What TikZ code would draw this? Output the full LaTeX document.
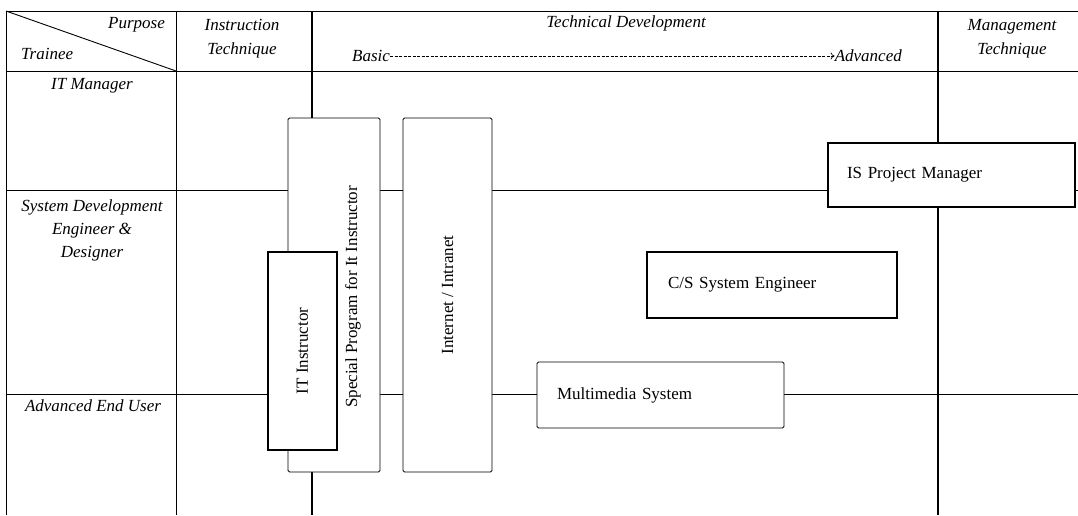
\documentclass[tikz,border=0pt]{standalone}
\usepackage{fontspec}
\setmainfont{Liberation Serif}
\usetikzlibrary{arrows.meta,positioning}

\newcommand{\hdfont}{\fontsize{17}{19}\selectfont\itshape}
\newcommand{\bxfont}{\fontsize{17}{19}\selectfont}

\begin{document}
\begin{tikzpicture}[x=1pt, y=-1pt,
  rule/.style={line width=0.9pt},
  bold rule/.style={line width=1.8pt},
  hd/.style={font=\hdfont, align=center, inner sep=0pt},
  box/.style={draw, fill=white, font=\bxfont, inner ysep=0pt, align=left},
  heavy/.style={box, line width=1.7pt},
  light/.style={box, line width=0.9pt, rounded corners=1.5pt},
  arr/.style={dashed, dash pattern=on 3pt off 1.5pt, line width=0.7pt, -{To[length=4pt,width=7pt]}}]

\fill[white] (0,0) rectangle (1078,515);
\useasboundingbox (0,0) rectangle (1078,515);

% table grid
\draw[rule] (6,11) -- (1078,11);
\draw[rule] (6,71) -- (1078,71);
\draw[rule] (6,190) -- (1078,190);
\draw[rule] (6,394) -- (1078,394);
\draw[rule] (6,11) -- (6,515);
\draw[rule] (176,11) -- (176,515);
\draw[bold rule] (312,11) -- (312,515);
\draw[bold rule] (938,11) -- (938,515);
\draw[rule] (6,11) -- (176,71);

% header
\node[hd, anchor=east] (purpose) at (165,25) {Purpose};
\node[hd, anchor=west] (trainee) at (21,54) {Trainee};
\node[hd] (instr) at (242,39) {Instruction\\[5pt]Technique};
\node[hd] (techdev) at (626,23) {Technical Development};
\node[hd, anchor=west] (basic) at (352,56) {Basic};
\node[hd, anchor=east] (adv) at (902,56) {Advanced};
\draw[arr] (basic.east) -- (adv.west);
\node[hd] (mgmt) at (1012,39) {Management\\[5pt]Technique};

% trainee rows
\node[hd] (itm) at (92,86) {IT Manager};
\node[hd] (sde) at (92,230) {System Development\\[4pt]Engineer \&\\[4pt]Designer};
\node[hd] (aeu) at (93,406) {Advanced End User};

% programs
\node[light, rotate=90, minimum width=354pt, minimum height=92pt] (sp) at (334,295) {};
\node[rotate=90, font=\bxfont, inner sep=0pt] (sp-t) at (353,297) {Special Program for It Instructor};
\node[heavy, rotate=90, align=center, minimum width=198pt, minimum height=69pt] (iti) at (302.5,351) {IT Instructor};
\node[light, rotate=90, align=center, minimum width=354pt, minimum height=89pt] (net) at (447.5,295) {Internet / Intranet};
\node[heavy, minimum height=64pt, inner xsep=19pt, text width=209pt] (ispm) at (951.5,175) {IS Project Manager};
\node[heavy, minimum height=66pt, inner xsep=21pt, text width=208pt] (cs) at (772,285) {C/S System Engineer};
\node[light, minimum height=66pt, inner xsep=20pt, text width=207pt] (mm) at (660.5,395) {Multimedia System};

\end{tikzpicture}
\end{document}
